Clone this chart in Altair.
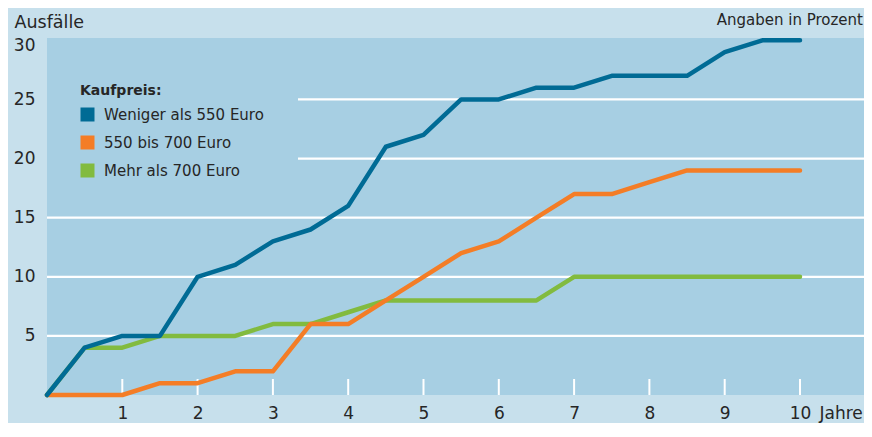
import altair as alt
import pandas as pd

# ---- data ----
years = [0, 0.5, 1, 1.5, 2, 2.5, 3, 3.5, 4, 4.5, 5, 5.5, 6, 6.5, 7, 7.5, 8, 8.5, 9, 9.5, 10]
series_names = ["Weniger als 550 Euro", "550 bis 700 Euro", "Mehr als 700 Euro"]
low_price = [0, 4, 5, 5, 10, 11, 13, 14, 16, 21, 22, 25, 25, 26, 26, 27, 27, 27, 29, 30, 30]
mid_price = [0, 0, 0, 1, 1, 2, 2, 6, 6, 8, 10, 12, 13, 15, 17, 17, 18, 19, 19, 19, 19]
high_price = [0, 4, 4, 5, 5, 5, 6, 6, 7, 8, 8, 8, 8, 8, 10, 10, 10, 10, 10, 10, 10]
series_colors = ["#006b95", "#f47d26", "#82bb3f"]
y_tick_values = [5, 10, 15, 20, 25, 30]
grid_values = [5, 10, 15, 20, 25]
x_tick_values = [1, 2, 3, 4, 5, 6, 7, 8, 9, 10]
note_text = ["Angaben in Prozent"]

rows = []
for name, vals in zip(series_names, [low_price, mid_price, high_price]):
    for x, v in zip(years, vals):
        rows.append({"Jahr": x, "Ausfall": v, "Kaufpreis": name})
df = pd.DataFrame(rows)

OUTER_BG = "#c7e0ec"
PLOT_BG = "#a7cfe3"
TEXT = "#262626"
FONT = "DejaVu Sans"
W, H = 817, 357

xscale = alt.Scale(domain=[0, 10.85], nice=False, zero=False)
yscale = alt.Scale(domain=[0, 30.2], nice=False, zero=False)

xaxis = alt.Axis(
    values=x_tick_values, format="d", title="Jahre",
    titleX=772, titleY=23, titleAlign="left", titleBaseline="alphabetic",
    titleFont=FONT, titleFontSize=17, titleFontWeight="normal", titleColor=TEXT,
    labelFont=FONT, labelFontSize=17, labelColor=TEXT, labelPadding=10,
    labelOverlap=False, labelFlush=False,
    ticks=False, tickSize=0, domain=False, grid=False,
)
yaxis = alt.Axis(
    values=y_tick_values, title="Ausfälle", titleAngle=0,
    titleX=-33, titleY=-11, titleAlign="left", titleBaseline="alphabetic",
    titleFont=FONT, titleFontSize=17.5, titleFontWeight="normal", titleColor=TEXT,
    labelFont=FONT, labelFontSize=17, labelColor=TEXT, labelPadding=12,
    labelOffset={"condition": {"test": "datum.value === 30", "value": 5}, "value": 0},
    labelOverlap=False, labelFlush=False,
    ticks=False, tickSize=0, domain=False, grid=False,
)

legend = alt.Legend(
    title="Kaufpreis:", orient="none", legendX=0, legendY=13,
    padding=33, fillColor=PLOT_BG, strokeColor=PLOT_BG,
    symbolType="square", symbolSize=196, symbolStrokeWidth=0, symbolOffset=0,
    symbolOpacity=1,
    labelOffset=9, rowPadding=12, titlePadding=9,
    titleFont=FONT, titleFontSize=14, titleFontWeight="bold", titleColor=TEXT,
    labelFont=FONT, labelFontSize=15, labelColor=TEXT, labelLimit=0,
)
color_scale = alt.Scale(domain=series_names, range=series_colors)

grid = alt.Chart(pd.DataFrame({"v": grid_values})).mark_rule(color="white", strokeWidth=2.2).encode(
    y=alt.Y("v:Q", scale=yscale, axis=yaxis)
)
ticks = alt.Chart(pd.DataFrame({"t": x_tick_values})).mark_rule(color="white", strokeWidth=2).encode(
    x=alt.X("t:Q", scale=xscale, axis=xaxis), y=alt.value(H - 16), y2=alt.value(H)
)
# tiny filled squares under the lines: they carry the filled-square legend
keys = alt.Chart(df).mark_square(size=1, filled=True, opacity=1).encode(
    x=alt.X("Jahr:Q", scale=xscale, axis=xaxis),
    y=alt.Y("Ausfall:Q", scale=yscale, axis=yaxis),
    color=alt.Color("Kaufpreis:N", scale=color_scale, legend=legend),
)

def series_layer(name):
    return alt.Chart(df).transform_filter(alt.datum.Kaufpreis == name).mark_line(
        strokeWidth=4.5, strokeCap="round", strokeJoin="round"
    ).encode(
        x=alt.X("Jahr:Q", scale=xscale, axis=xaxis),
        y=alt.Y("Ausfall:Q", scale=yscale, axis=yaxis),
        color=alt.Color("Kaufpreis:N", scale=color_scale, legend=None),
    )

lines = [series_layer(series_names[2]), series_layer(series_names[1]), series_layer(series_names[0])]

note = alt.Chart(pd.DataFrame({"note": note_text})).mark_text(
    align="right", baseline="alphabetic", font=FONT, fontSize=15, color=TEXT
).encode(x=alt.value(W - 1), y=alt.value(-13), text="note:N")

chart = alt.layer(grid, ticks, keys, *lines, note).properties(
    width=W, height=H,
    background=OUTER_BG,
    autosize=alt.AutoSizeParams(type="none"),
    padding={"left": 39, "top": 30, "right": 0, "bottom": 28},
).configure_view(fill=PLOT_BG, strokeWidth=0)

chart.save("out.html", embed_options={"renderer": "svg", "actions": False})
